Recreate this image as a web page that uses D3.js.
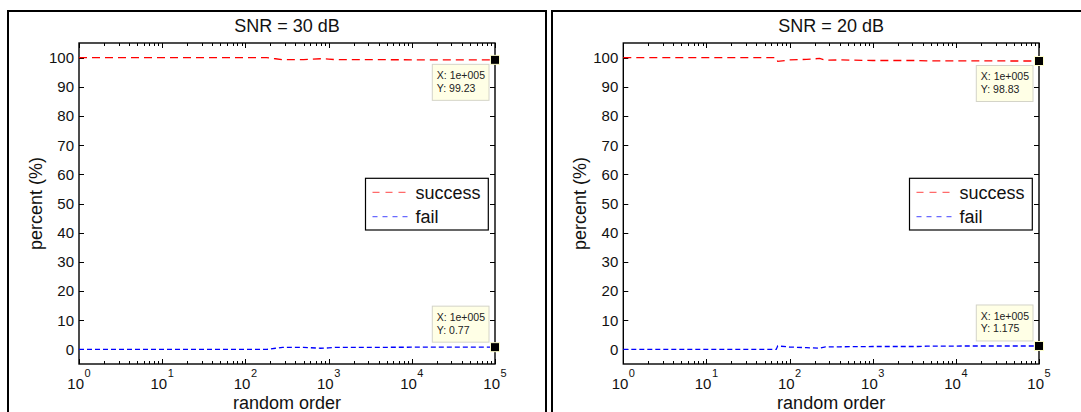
<!DOCTYPE html>
<html>
<head>
<meta charset="utf-8">
<script src="https://cdn.jsdelivr.net/npm/d3@7"></script>
<style>
  html, body { margin: 0; padding: 0; background: #fff; }
  svg { display: block; font-family: "Liberation Sans", Arial, sans-serif; }
</style>
</head>
<body>
<svg id="chart" width="1081" height="412"></svg>
<script>
// ---------------- data ----------------
const panelTitles = ["SNR = 30 dB", "SNR = 20 dB"];
const xLabel = "random order";
const yLabel = "percent (%)";
const seriesNames = ["success", "fail"];
const yTicks = [0, 10, 20, 30, 40, 50, 60, 70, 80, 90, 100];
const xTickExponents = [0, 1, 2, 3, 4, 5];

const order30   = [1, 10, 100, 180, 230, 280, 500, 800, 1000, 1200, 2000, 10000, 100000];
const success30 = [100, 100, 100, 100, 99.6, 99.3, 99.3, 99.6, 99.5, 99.3, 99.3, 99.25, 99.23];
const fail30    = [0, 0, 0, 0, 0.4, 0.7, 0.7, 0.4, 0.5, 0.7, 0.7, 0.75, 0.77];

const order20   = [1, 10, 60, 69, 72, 100, 160, 230, 270, 400, 1000, 3500, 4500, 6000, 20000, 100000];
const success20 = [100, 100, 100, 100, 98.7, 99.2, 99.4, 99.7, 99.1, 99.2, 99.0, 99.0, 98.9, 98.85, 98.85, 98.83];
const fail20    = [0, 0, 0, 0, 1.2, 0.8, 0.6, 0.4, 0.9, 0.9, 1.0, 1.0, 1.1, 1.15, 1.17, 1.175];

const tipX = ["1e+005", "1e+005"];
const tipSuccess = ["99.23", "98.83"];
const tipFail = ["0.77", "1.175"];

// ---------------- layout ----------------
const svg = d3.select("#chart");
const panels = [
  { frameX: 8, frameW: 538, x0: 79, x1: 495, order: order30, s: success30, f: fail30 },
  { frameX: 552, frameW: 540, x0: 623.3, x1: 1039, order: order20, s: success20, f: fail20 }
];
const yTop = 43, yBot = 364;

panels.forEach((p, i) => {
  // outer figure frame
  svg.append("rect")
    .attr("x", p.frameX).attr("y", 11)
    .attr("width", p.frameW).attr("height", 440)
    .attr("fill", "none").attr("stroke", "#000").attr("stroke-width", 2);

  const x = d3.scaleLog().domain([1, 1e5]).range([p.x0, p.x1]);
  const y = d3.scaleLinear().domain([-5, 105]).range([yBot, yTop]);
  const g = svg.append("g");

  // axes box
  g.append("rect")
    .attr("x", p.x0).attr("y", yTop)
    .attr("width", p.x1 - p.x0).attr("height", yBot - yTop)
    .attr("fill", "none").attr("stroke", "#000").attr("stroke-width", 1.4);

  // x ticks (major + minor), bottom and top, inward
  const minor = [];
  for (let d = 0; d < 5; d++) for (let k = 2; k <= 9; k++) minor.push(k * Math.pow(10, d));
  const major = xTickExponents.map(e => Math.pow(10, e));
  const tickG = g.append("g").attr("stroke", "#000").attr("stroke-width", 1);
  [[minor, 3], [major, 5]].forEach(([vals, len]) => {
    vals.forEach(v => {
      const xx = Math.round(x(v)) + 0.5;
      tickG.append("line").attr("x1", xx).attr("x2", xx).attr("y1", yBot).attr("y2", yBot - len);
      tickG.append("line").attr("x1", xx).attr("x2", xx).attr("y1", yTop).attr("y2", yTop + len);
    });
  });
  // y ticks left & right inward
  yTicks.forEach(v => {
    const yy = Math.round(y(v)) + 0.5;
    tickG.append("line").attr("x1", p.x0).attr("x2", p.x0 + 5).attr("y1", yy).attr("y2", yy);
    tickG.append("line").attr("x1", p.x1).attr("x2", p.x1 - 5).attr("y1", yy).attr("y2", yy);
  });

  // y tick labels
  g.append("g").selectAll("text").data(yTicks).join("text")
    .attr("x", p.x0 - 5).attr("y", d => y(d)).attr("dy", "0.36em")
    .attr("text-anchor", "end").attr("font-size", 15).attr("fill", "#111")
    .text(d => d);

  // x tick labels 10^n
  xTickExponents.forEach(e => {
    const t = g.append("text")
      .attr("x", x(Math.pow(10, e))).attr("y", 389)
      .attr("text-anchor", "middle").attr("font-size", 15).attr("fill", "#111");
    t.append("tspan").text("10");
    t.append("tspan").attr("dx", 0.5).attr("dy", -12).attr("font-size", 11).text(e);
  });

  // title
  g.append("text").attr("x", (p.x0 + p.x1) / 2).attr("y", 32)
    .attr("text-anchor", "middle").attr("font-size", 18).attr("fill", "#111")
    .text(panelTitles[i]);
  // x label
  g.append("text").attr("x", (p.x0 + p.x1) / 2).attr("y", 409)
    .attr("text-anchor", "middle").attr("font-size", 18).attr("fill", "#111")
    .text(xLabel);
  // y label
  g.append("text")
    .attr("transform", `translate(${p.x0 - 37},${(yTop + yBot) / 2}) rotate(-90)`)
    .attr("text-anchor", "middle").attr("font-size", 18).attr("fill", "#111")
    .text(yLabel);

  // lines
  const line = d3.line().x(d => x(d[0])).y(d => y(d[1]));
  const sData = p.order.map((o, k) => [o, p.s[k]]);
  const fData = p.order.map((o, k) => [o, p.f[k]]);
  g.append("path").attr("d", line(sData)).attr("fill", "none")
    .attr("stroke", "#ff0000").attr("stroke-width", 1.3).attr("stroke-dasharray", "8,5");
  g.append("path").attr("d", line(fData)).attr("fill", "none")
    .attr("stroke", "#0000ff").attr("stroke-width", 1.3).attr("stroke-dasharray", "5,3");

  // legend
  const lx = p.x1 - 129.5, ly = 178.3, lw = 122.8, lh = 51.7;
  const lg = g.append("g");
  lg.append("rect").attr("x", lx).attr("y", ly).attr("width", lw).attr("height", lh)
    .attr("fill", "#fff").attr("stroke", "#000").attr("stroke-width", 1.2);
  lg.append("line").attr("x1", lx + 7).attr("x2", lx + 46).attr("y1", ly + 14).attr("y2", ly + 14)
    .attr("stroke", "#ff6a6a").attr("stroke-width", 1.3).attr("stroke-dasharray", "7,6");
  lg.append("text").attr("x", lx + 50).attr("y", ly + 20.7).attr("font-size", 18).attr("fill", "#111")
    .text(seriesNames[0]);
  lg.append("line").attr("x1", lx + 7).attr("x2", lx + 43).attr("y1", ly + 38.4).attr("y2", ly + 38.4)
    .attr("stroke", "#6a6aff").attr("stroke-width", 1.3).attr("stroke-dasharray", "5,5");
  lg.append("text").attr("x", lx + 50).attr("y", ly + 45).attr("font-size", 18).attr("fill", "#111")
    .text(seriesNames[1]);

  // data tips
  const lastS = p.s[p.s.length - 1], lastF = p.f[p.f.length - 1];
  const lastX = p.order[p.order.length - 1];
  const tips = [
    { v: lastS, label: tipSuccess[i], below: true },
    { v: lastF, label: tipFail[i], below: false }
  ];
  tips.forEach(t => {
    const mx = x(lastX), my = y(t.v);
    const bw = 56.7, bh = 36;
    const bx = mx - 6 - bw;
    const by = t.below ? my + 4.5 : my - 5 - bh;
    const tg = g.append("g");
    tg.append("rect").attr("x", bx).attr("y", by).attr("width", bw).attr("height", bh)
      .attr("fill", "#ffffe6").attr("stroke", "#d4d4c8").attr("stroke-width", 1);
    tg.append("text").attr("x", bx + 4.5).attr("y", by + 14.7).attr("font-size", 10.5).attr("fill", "#222")
      .text("X: " + tipX[i]);
    tg.append("text").attr("x", bx + 4.5).attr("y", by + 27.5).attr("font-size", 10.5).attr("fill", "#222")
      .text("Y: " + t.label);
    tg.append("rect").attr("x", mx - 4.5).attr("y", my - 4.5).attr("width", 9).attr("height", 9)
      .attr("fill", "#000").attr("stroke", "#ffffcc").attr("stroke-width", 1);
  });
});
</script>
</body>
</html>
